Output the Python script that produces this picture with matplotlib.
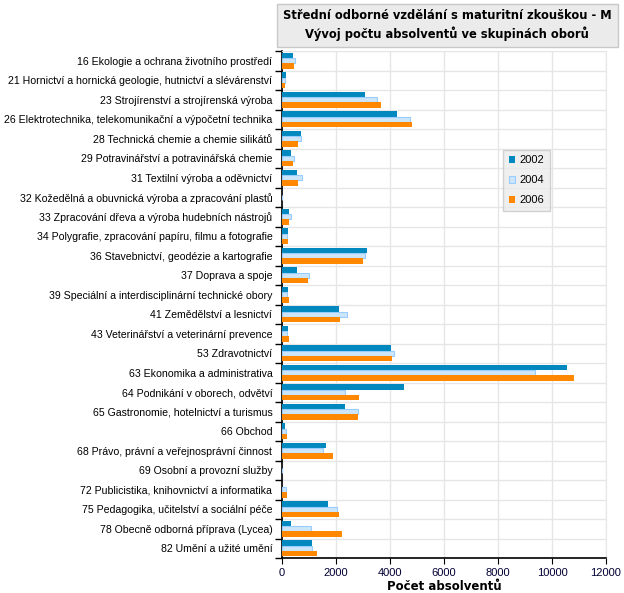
import numpy as np
import matplotlib
matplotlib.use('Agg')
import matplotlib.pyplot as plt
from matplotlib.patches import Rectangle

# kategorie (skupiny oboru)
obory = [
    '16 Ekologie a ochrana životního prostředí',
    '21 Hornictví a hornická geologie, hutnictví a slévárenství',
    '23 Strojírenství a strojírenská výroba',
    '26 Elektrotechnika, telekomunikační a výpočetní technika',
    '28 Technická chemie a chemie silikátů',
    '29 Potravinářství a potravinářská chemie',
    '31 Textilní výroba a oděvnictví',
    '32 Kožedělná a obuvnická výroba a zpracování plastů',
    '33 Zpracování dřeva a výroba hudebních nástrojů',
    '34 Polygrafie, zpracování papíru, filmu a fotografie',
    '36 Stavebnictví, geodézie a kartografie',
    '37 Doprava a spoje',
    '39 Speciální a interdisciplinární technické obory',
    '41 Zemědělství a lesnictví',
    '43 Veterinářství a veterinární prevence',
    '53 Zdravotnictví',
    '63 Ekonomika a administrativa',
    '64 Podnikání v oborech, odvětví',
    '65 Gastronomie, hotelnictví a turismus',
    '66 Obchod',
    '68 Právo, právní a veřejnosprávní činnost',
    '69 Osobní a provozní služby',
    '72 Publicistika, knihovnictví a informatika',
    '75 Pedagogika, učitelství a sociální péče',
    '78 Obecně odborná příprava (Lycea)',
    '82 Umění a užité umění',
]

roky = ['2002', '2004', '2006']

v2002 = [400, 150, 3070, 4260, 700, 330, 560, 0, 260, 220, 3140, 560, 220, 2110, 220,
         4030, 10550, 4500, 2330, 120, 1630, 0, 0, 1700, 330, 1120]
v2004 = [470, 100, 3500, 4730, 690, 430, 730, 0, 320, 200, 3060, 990, 200, 2400, 200,
         4130, 9360, 2320, 2800, 145, 1510, 0, 145, 2030, 1070, 1100]
v2006 = [440, 110, 3670, 4820, 590, 410, 590, 0, 260, 220, 3000, 970, 260, 2150, 260,
         4060, 10800, 2850, 2810, 195, 1890, 0, 195, 2110, 2220, 1300]

plt.rcParams['font.family'] = ['Liberation Sans', 'DejaVu Sans']

fig = plt.figure(figsize=(6.24, 5.93), dpi=100)
ax = fig.add_axes([282 / 624, 1 - 558 / 593, 324 / 624, 507 / 593])

y = np.arange(len(obory))
h = 0.27
ax.barh(y - h, v2002, height=h, color='#0088BF', label=roky[0], zorder=3)
ax.barh(y, v2004, height=h, color='#CCE5F8', edgecolor='#99CCFF', linewidth=0.8,
        label=roky[1], zorder=3)
ax.barh(y + h, v2006, height=h, color='#FF8800', label=roky[2], zorder=3)

ax.set_ylim(len(obory) - 0.5, -0.5)
ax.set_xlim(0, 12000)
ax.set_xticks(np.arange(0, 12001, 2000))
ax.set_yticks(y)
ax.set_yticklabels(obory, fontsize=7.6)
ax.tick_params(axis='y', length=0, pad=7)
ax.set_yticks(np.arange(-0.5, len(obory), 1), minor=True)
ax.tick_params(axis='y', which='minor', length=5, width=1, color='black')
ax.tick_params(axis='x', labelsize=8, length=4, color='black', labelcolor='#000033')

ax.grid(axis='x', color='#E6E6E6', linewidth=1, zorder=0)
ax.grid(axis='y', which='minor', color='#E6E6E6', linewidth=1, zorder=0)
ax.spines['top'].set_color('#E6E6E6')
ax.spines['right'].set_color('#E6E6E6')
ax.spines['left'].set_linewidth(1.2)
ax.spines['bottom'].set_linewidth(1.2)

ax.set_xlabel('Počet absolventů', fontsize=8.5, fontweight='bold', labelpad=1,
              family='DejaVu Sans')

leg = ax.legend(loc='upper left', bbox_to_anchor=(0.682, 0.805), fontsize=8,
                frameon=True, fancybox=False, handlelength=0.6, handleheight=0.6,
                handletextpad=0.4, labelspacing=0.9, borderpad=0.5, borderaxespad=0)
leg.get_frame().set_facecolor('#EBEBEB')
leg.get_frame().set_edgecolor('#C8C8C8')

# titulek v sedem ramecku
fig.patches.append(Rectangle((277 / 624, 1 - 47 / 593), 341 / 624, 43 / 593,
                             transform=fig.transFigure, facecolor='#EBEBEB',
                             edgecolor='#C8C8C8', linewidth=1))
fig.text(447 / 624, 1 - 25 / 593,
         'Střední odborné vzdělání s maturitní zkouškou - M\nVývoj počtu absolventů ve skupinách oborů',
         ha='center', va='center', fontsize=8.3, fontweight='bold', linespacing=1.35,
         family='DejaVu Sans')

fig.savefig('out.png', dpi=100)
